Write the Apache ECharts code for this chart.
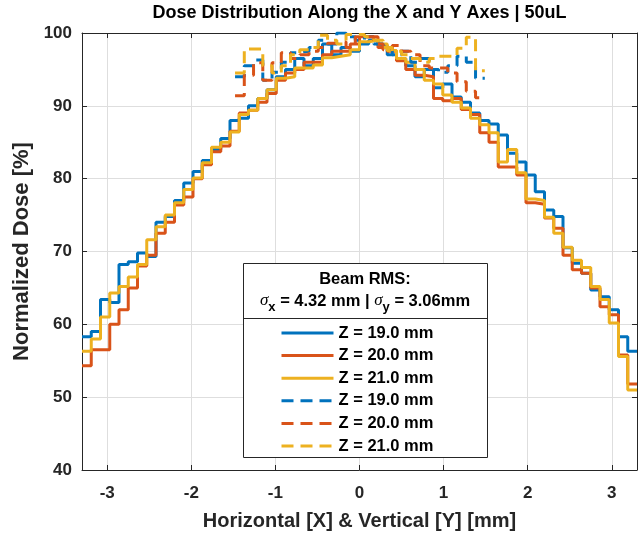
<!DOCTYPE html>
<html><head><meta charset="utf-8">
<script src="https://cdn.jsdelivr.net/npm/echarts@6/dist/echarts.min.js"></script>
<style>html,body{margin:0;padding:0;background:#fff}#c{width:644px;height:536px}</style>
</head><body><div id="c"></div>
<script>
// Bin edges (mm) for the X profile (solid) and Y profile (dashed)
const edgesSolid = [-3.30,-3.19,-3.08,-2.97,-2.86,-2.75,-2.64,-2.53,-2.42,-2.31,-2.20,-2.09,-1.98,-1.87,-1.76,-1.65,-1.54,-1.43,-1.32,-1.21,-1.10,-0.99,-0.88,-0.77,-0.66,-0.55,-0.44,-0.33,-0.22,-0.11,0.00,0.11,0.22,0.33,0.44,0.55,0.66,0.77,0.88,0.99,1.10,1.21,1.32,1.43,1.54,1.65,1.76,1.87,1.98,2.09,2.20,2.31,2.42,2.53,2.64,2.75,2.86,2.97,3.08,3.19,3.30];
const edgesDashed = [-1.48,-1.37,-1.26,-1.15,-1.04,-0.93,-0.82,-0.71,-0.60,-0.49,-0.38,-0.27,-0.16,-0.05,0.06,0.17,0.28,0.39,0.50,0.61,0.72,0.83,0.94,1.05,1.16,1.27,1.38,1.49];

// Normalized dose [%] per bin
const xZ19 = [58.3,59.0,63.4,63.0,68.2,68.6,69.8,69.3,74.0,74.8,77.0,79.4,81.0,82.5,84.0,85.5,88.0,88.3,90.0,91.0,92.2,94.0,95.0,96.5,95.5,96.5,98.5,97.0,98.0,97.5,98.5,99.0,98.3,97.0,96.5,95.5,94.0,95.0,92.5,93.0,91.2,90.5,89.0,88.0,87.5,86.0,83.5,82.3,80.5,78.2,75.7,74.8,70.5,68.4,67.0,64.7,63.8,62.0,58.3,56.3];
const xZ20 = [54.3,56.5,56.5,60.0,62.0,65.0,68.0,69.5,72.5,74.0,76.4,77.5,80.0,81.9,83.7,84.5,86.5,89.0,89.4,90.5,91.7,93.5,94.5,95.0,96.0,96.0,97.0,97.5,97.5,98.5,99.5,99.5,98.0,97.5,96.2,95.0,94.2,94.0,91.0,90.7,91.0,89.5,88.8,86.3,85.0,81.6,81.6,80.5,76.7,76.5,74.6,73.2,69.5,67.5,67.0,65.0,62.4,61.3,55.8,51.8];
const xZ21 = [56.3,58.0,61.0,64.3,65.2,66.5,68.2,71.6,73.4,75.0,76.7,78.5,80.1,82.2,84.3,85.0,86.4,88.8,89.4,91.0,92.2,93.8,94.0,95.2,95.2,95.6,96.6,96.8,97.0,97.7,98.8,99.0,98.5,97.6,96.5,96.0,95.0,93.5,93.0,91.5,90.5,89.7,88.3,87.4,86.3,82.3,84.0,80.8,77.2,77.0,74.7,72.5,70.6,68.8,67.8,65.2,63.4,60.2,55.6,51.0];
const yZ19 = [94.0,95.5,96.3,93.5,94.6,96.0,97.3,97.5,98.0,99.0,98.5,100.0,99.5,99.0,99.5,98.5,98.0,97.0,97.5,96.0,96.5,95.0,94.6,95.5,96.8,96.0,93.8];
const yZ20 = [91.4,94.2,95.9,93.5,95.9,97.3,96.5,97.0,97.5,98.0,98.6,98.8,98.0,99.5,99.5,98.5,97.7,98.3,97.5,97.0,95.5,95.2,95.2,94.5,93.3,92.0,91.1];
const yZ21 = [94.5,97.8,97.8,95.5,94.5,95.5,97.0,97.7,98.0,99.7,99.0,98.5,99.8,99.8,99.5,99.0,98.0,97.5,97.0,96.5,96.0,96.5,96.8,96.8,97.9,99.4,94.8];

const xTicks = [-3,-2,-1,0,1,2,3];
const zNames = ['Z = 19.0 mm','Z = 20.0 mm','Z = 21.0 mm'];
const colors = ['#0072BD','#D95319','#EDB120'];
const chartTitle = 'Dose Distribution Along the X and Y Axes | 50uL';
const xName = 'Horizontal [X] & Vertical [Y] [mm]';
const yName = 'Normalized Dose [%]';

function stairs(edges, vals){
  const d = vals.map((v,i)=>[edges[i], v]);
  d.push([edges[vals.length], vals[vals.length-1]]);
  return d;
}
const FONT = '"Liberation Sans", Arial, Helvetica, sans-serif';
const solidVals = [xZ19, xZ20, xZ21];
const dashVals = [yZ19, yZ20, yZ21];
const series = [];
solidVals.forEach((v,i)=>series.push({
  name: zNames[i], type:'line', step:'end', showSymbol:false, symbol:'none',
  data: stairs(edgesSolid, v), lineStyle:{color:colors[i], width:3}, itemStyle:{color:colors[i]}, z:2
}));
dashVals.forEach((v,i)=>series.push({
  name: zNames[i]+' ', type:'line', step:'end', showSymbol:false, symbol:'none',
  data: stairs(edgesDashed, v), lineStyle:{color:colors[i], width:3, type:[12,7]}, itemStyle:{color:colors[i]}, z:2
}));

const chart = echarts.init(document.getElementById('c'), null, {renderer:'canvas'});
chart.setOption({
  animation:false,
  backgroundColor:'#fff',
  title:{text:chartTitle, left:359.5, textAlign:'center', top:4, padding:0,
    textStyle:{fontFamily:FONT, fontSize:18, fontWeight:'bold', color:'#000'}},
  grid:{left:82, right:7, top:33, bottom:66, containLabel:false},
  xAxis:[{
    type:'value', min:-3.3, max:3.3, position:'bottom',
    name:xName, nameLocation:'middle', nameGap:51,
    nameTextStyle:{fontFamily:FONT, fontSize:20, fontWeight:'bold', color:'#262626', verticalAlign:'middle'},
    axisLine:{show:true, onZero:false, lineStyle:{color:'#262626', width:1}},
    axisTick:{show:true, inside:true, length:5, lineStyle:{color:'#262626'}, customValues:xTicks},
    axisLabel:{customValues:xTicks, fontFamily:FONT, fontSize:17, fontWeight:'bold', color:'#262626', margin:15},
    splitLine:{show:true, lineStyle:{color:'#dedede', width:1}}
  },{
    type:'value', min:-3.3, max:3.3, position:'top',
    axisLine:{show:true, onZero:false, lineStyle:{color:'#262626', width:1}},
    axisTick:{show:true, inside:true, length:5, lineStyle:{color:'#262626'}, customValues:xTicks},
    axisLabel:{show:false}, splitLine:{show:false}
  }],
  yAxis:[{
    type:'value', min:40, max:100, interval:10, position:'left',
    name:yName, nameLocation:'middle', nameGap:55,
    nameTextStyle:{fontFamily:FONT, fontSize:22, fontWeight:'bold', color:'#262626', verticalAlign:'middle'},
    axisLine:{show:true, onZero:false, lineStyle:{color:'#262626', width:1}},
    axisTick:{show:true, inside:true, length:5, lineStyle:{color:'#262626'}},
    axisLabel:{fontFamily:FONT, fontSize:17, fontWeight:'bold', color:'#262626', margin:10},
    splitLine:{show:true, lineStyle:{color:'#dedede', width:1}}
  },{
    type:'value', min:40, max:100, interval:10, position:'right',
    axisLine:{show:true, onZero:false, lineStyle:{color:'#262626', width:1}},
    axisTick:{show:true, inside:true, length:5, lineStyle:{color:'#262626'}},
    axisLabel:{show:false}, splitLine:{show:false}
  }],
  legend:{
    orient:'vertical', left:280, top:324, padding:0,
    itemWidth:52, itemHeight:14, itemGap:4.6,
    itemStyle:{opacity:0, borderWidth:0},
    lineStyle:{width:3},
    data: series.map(s=>s.name),
    formatter: n => n.trim(),
    textStyle:{fontFamily:FONT, fontSize:16.5, fontWeight:'bold', color:'#000', lineHeight:18},
    selectedMode:false, z:6
  },
  graphic:[
    {type:'rect', z:4, shape:{x:243.5, y:263.5, width:244, height:194}, style:{fill:'#fff', stroke:'#262626', lineWidth:1}},
    {type:'line', z:5, shape:{x1:243.5, y1:318.5, x2:487.5, y2:318.5}, style:{stroke:'#262626', lineWidth:1}},
    {type:'text', z:5, x:365, y:279, style:{text:'Beam RMS:', fontFamily:FONT, fontSize:16.5, fontWeight:'bold', fill:'#000', align:'center', verticalAlign:'middle'}},
    {type:'text', z:5, x:365, y:301, style:{
      text:'{s|σ}{sub|x}{n| = 4.32 mm | }{s|σ}{sub|y}{n| = 3.06mm}',
      align:'center', verticalAlign:'middle',
      rich:{
        s:{fontFamily:'"Liberation Serif", "DejaVu Serif", serif', fontStyle:'italic', fontSize:17, fill:'#000', lineHeight:26, verticalAlign:'middle'},
        n:{fontFamily:FONT, fontSize:16.5, fontWeight:'bold', fill:'#000', lineHeight:26, verticalAlign:'middle'},
        sub:{fontFamily:FONT, fontSize:13, fontWeight:'bold', fill:'#000', lineHeight:12, verticalAlign:'bottom'}
      }}}
  ],
  series: series
});
</script></body></html>
